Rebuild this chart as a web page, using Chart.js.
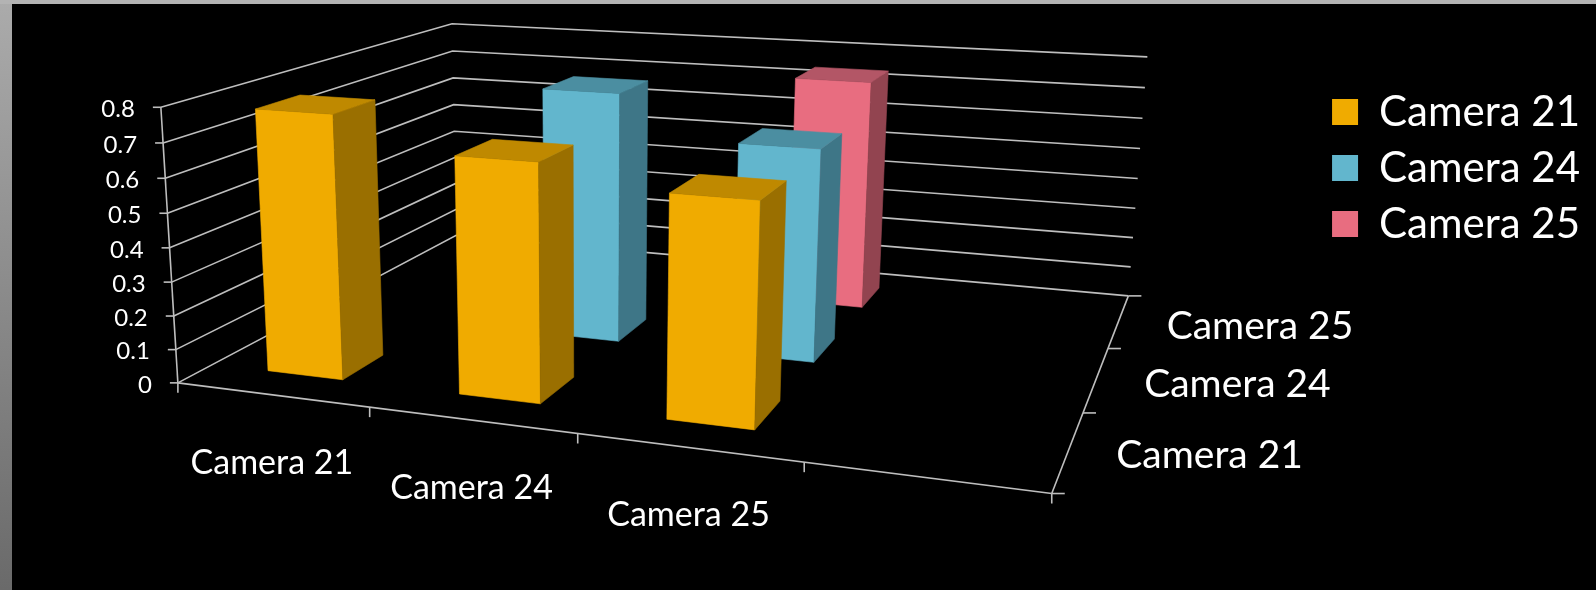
<!DOCTYPE html>
<html>
<head>
<meta charset="utf-8">
<title>Camera chart</title>
<script src="https://cdn.jsdelivr.net/npm/chart.js@4.4.1/dist/chart.umd.min.js"></script>
<style>
  html, body { margin: 0; padding: 0; background: #000; }
  #wrap { position: relative; width: 1596px; height: 590px; }
</style>
</head>
<body>
<div id="wrap"><canvas id="chart"></canvas></div>
<script>
/* data (the 4th category slot is empty) */
const categories = ['Camera 21', 'Camera 24', 'Camera 25', ''];
const seriesNames = ['Camera 21', 'Camera 24', 'Camera 25'];
const cam21 = [0.775, 0.683, 0.626, null];
const cam24 = [null, 0.769, 0.643, null];
const cam25 = [null, null, 0.74, null];
const valueTicks = ['0', '0.1', '0.2', '0.3', '0.4', '0.5', '0.6', '0.7', '0.8'];

/* style */
const FACES = [
  { front: '#f0ab00', side: '#9a6f00', top: '#bf8900' },
  { front: '#62b6cd', side: '#3e7687', top: '#4b8ea1' },
  { front: '#e86d80', side: '#924450', top: '#b35666' },
];
const GRID = '#bebebe';
const FONT = 'Lato, "Open Sans", sans-serif';
const BAR_W = 0.4;   // share of a category slot (gap width 150%)
const BAR_D = 0.4;   // share of a series slot (gap depth 150%)

// where the plot box lands on screen: [X, Yfrac, Z, px, py]
// X = category units, Yfrac = 0..1 of value axis, Z = series units
const BOX = [
  [0, 0, 0, 179, 381], [0, 1, 0, 160, 107],
  [0, 0, 3, 455, 237], [0, 1, 3, 453, 23],
  [4, 0, 3, 1129, 295], [4, 1, 3, 1147, 58],
  [4, 0, 0, 1052, 494], [1, 0, 0, 370, 407],
  [2, 0, 0, 578, 435], [3, 0, 0, 803, 464],
  [4, 0, 1, 1083, 412], [4, 0, 2, 1108, 347],
];

// least squares pinhole camera (DLT), pixel coords scaled down for conditioning
function solveCamera(pts) {
  const S = 1000, n = 11;
  const M = Array.from({ length: n }, () => new Array(n + 1).fill(0));
  const add = (row, rhs) => {
    for (let i = 0; i < n; i++) {
      for (let j = 0; j < n; j++) M[i][j] += row[i] * row[j];
      M[i][n] += row[i] * rhs;
    }
  };
  pts.forEach(([X, Y, Z, px, py]) => {
    const u = px / S, v = py / S;
    add([X, Y, Z, 1, 0, 0, 0, 0, -u * X, -u * Y, -u * Z], u);
    add([0, 0, 0, 0, X, Y, Z, 1, -v * X, -v * Y, -v * Z], v);
  });
  for (let c = 0; c < n; c++) {
    let piv = c;
    for (let r = c + 1; r < n; r++) if (Math.abs(M[r][c]) > Math.abs(M[piv][c])) piv = r;
    [M[c], M[piv]] = [M[piv], M[c]];
    for (let r = 0; r < n; r++) {
      if (r === c) continue;
      const f = M[r][c] / M[c][c];
      for (let k = c; k <= n; k++) M[r][k] -= f * M[c][k];
    }
  }
  const p = M.map((row, i) => row[n] / row[i]);
  return (X, Y, Z) => {
    const w = p[8] * X + p[9] * Y + p[10] * Z + 1;
    return [S * (p[0] * X + p[1] * Y + p[2] * Z + p[3]) / w,
            S * (p[4] * X + p[5] * Y + p[6] * Z + p[7]) / w];
  };
}
const proj = solveCamera(BOX);

function path(ctx, pts) {
  ctx.beginPath();
  pts.forEach(([x, y], i) => (i ? ctx.lineTo(x, y) : ctx.moveTo(x, y)));
}
function face(ctx, pts, color) {
  path(ctx, pts);
  ctx.closePath();
  ctx.fillStyle = color;
  ctx.strokeStyle = color;
  ctx.lineWidth = 0.6;
  ctx.fill();
  ctx.stroke();
}

const slideBg = {
  id: 'slideBg',
  beforeDraw(chart) {
    const { ctx, width, height } = chart;
    ctx.save();
    ctx.fillStyle = '#000';
    ctx.fillRect(0, 0, width, height);
    const g = ctx.createLinearGradient(0, 0, 0, height);
    g.addColorStop(0, '#ababab');
    g.addColorStop(1, '#6a6a6a');
    ctx.fillStyle = g;
    ctx.fillRect(0, 0, 12, height);
    ctx.fillStyle = '#b3b3b3';
    ctx.fillRect(0, 0, width, 4);
    ctx.restore();
  },
};

const bars3d = {
  id: 'bars3d',
  beforeDatasetsDraw(chart) {
    const ctx = chart.ctx;
    const xs = chart.scales.x, ys = chart.scales.y;
    const nX = categories.length;
    const nZ = chart.data.datasets.length;
    const yFrac = (v) => (ys.bottom - ys.getPixelForValue(v)) / (ys.bottom - ys.top);
    const xMid = (i) => nX * (xs.getPixelForValue(i) - xs.left) / xs.width;

    ctx.save();
    ctx.lineCap = 'butt';
    ctx.lineJoin = 'miter';
    ctx.strokeStyle = GRID;
    ctx.lineWidth = 1.6;

    // walls: left side wall and back wall gridlines
    valueTicks.forEach((t) => {
      const y = yFrac(parseFloat(t));
      path(ctx, [proj(0, y, 0), proj(0, y, nZ), proj(nX, y, nZ)]);
      ctx.stroke();
    });

    // value axis + ticks + labels
    path(ctx, [proj(0, 0, 0), proj(0, 1, 0)]);
    ctx.stroke();
    ctx.fillStyle = '#fff';
    ctx.font = '24px ' + FONT;
    ctx.textAlign = 'right';
    ctx.textBaseline = 'middle';
    valueTicks.forEach((t) => {
      const [x, y] = proj(0, yFrac(parseFloat(t)), 0);
      path(ctx, [[x - 8, y], [x, y]]);
      ctx.stroke();
      ctx.fillText(t, x - 26, y + 2);
    });

    // category axis along the front edge
    path(ctx, [proj(0, 0, 0), proj(nX, 0, 0)]);
    ctx.stroke();
    for (let k = 0; k <= nX; k++) {
      const [x, y] = proj(k, 0, 0);
      path(ctx, [[x, y], [x, y + 10]]);
      ctx.stroke();
    }
    ctx.font = '34px ' + FONT;
    ctx.textAlign = 'center';
    categories.forEach((c, i) => {
      const [x, y] = proj(xMid(i), 0, 0);
      ctx.fillText(c, x, y + 68);
    });

    // series (depth) axis along the right edge
    path(ctx, [proj(nX, 0, 0), proj(nX, 0, nZ)]);
    ctx.stroke();
    for (let k = 0; k <= nZ; k++) {
      const [x, y] = proj(nX, 0, k);
      path(ctx, [[x, y], [x + 13, y]]);
      ctx.stroke();
    }
    ctx.font = '39px ' + FONT;
    ctx.textAlign = 'left';
    chart.data.datasets.forEach((ds, j) => {
      const [x, y] = proj(nX, 0, j + 0.5);
      ctx.fillText(ds.label, x + 48, y + 5);
    });

    // columns, back rows first, left to right
    for (let j = nZ - 1; j >= 0; j--) {
      const data = chart.data.datasets[j].data;
      const col = FACES[j];
      data.forEach((v, i) => {
        if (v === null || v === undefined) return;
        const xc = xMid(i), zc = j + 0.5, h = yFrac(v);
        const x0 = xc - BAR_W / 2, x1 = xc + BAR_W / 2;
        const z0 = zc - BAR_D / 2, z1 = zc + BAR_D / 2;
        face(ctx, [proj(x0, 0, z0), proj(x1, 0, z0), proj(x1, h, z0), proj(x0, h, z0)], col.front);
        face(ctx, [proj(x1, 0, z0), proj(x1, 0, z1), proj(x1, h, z1), proj(x1, h, z0)], col.side);
        face(ctx, [proj(x0, h, z0), proj(x1, h, z0), proj(x1, h, z1), proj(x0, h, z1)], col.top);
      });
    }
    ctx.restore();
    return false; // the flat bars are replaced by the 3D ones
  },
};

new Chart(document.getElementById('chart'), {
  type: 'bar',
  data: {
    labels: categories,
    datasets: [
      { label: seriesNames[0], data: cam21, backgroundColor: FACES[0].front },
      { label: seriesNames[1], data: cam24, backgroundColor: FACES[1].front },
      { label: seriesNames[2], data: cam25, backgroundColor: FACES[2].front },
    ],
  },
  options: {
    responsive: true,
    maintainAspectRatio: false,
    animation: false,
    events: [],
    layout: { padding: { top: 77, right: 6, left: 12, bottom: 0 } },
    plugins: {
      legend: {
        position: 'right',
        align: 'start',
        labels: {
          color: '#ffffff',
          font: { family: FONT, size: 42 },
          boxWidth: 26,
          boxHeight: 26,
          padding: 14,
        },
      },
      tooltip: { enabled: false },
    },
    scales: {
      x: { display: false },
      y: { display: false, min: 0, max: 0.8 },
    },
  },
  plugins: [slideBg, bars3d],
});
</script>
</body>
</html>
